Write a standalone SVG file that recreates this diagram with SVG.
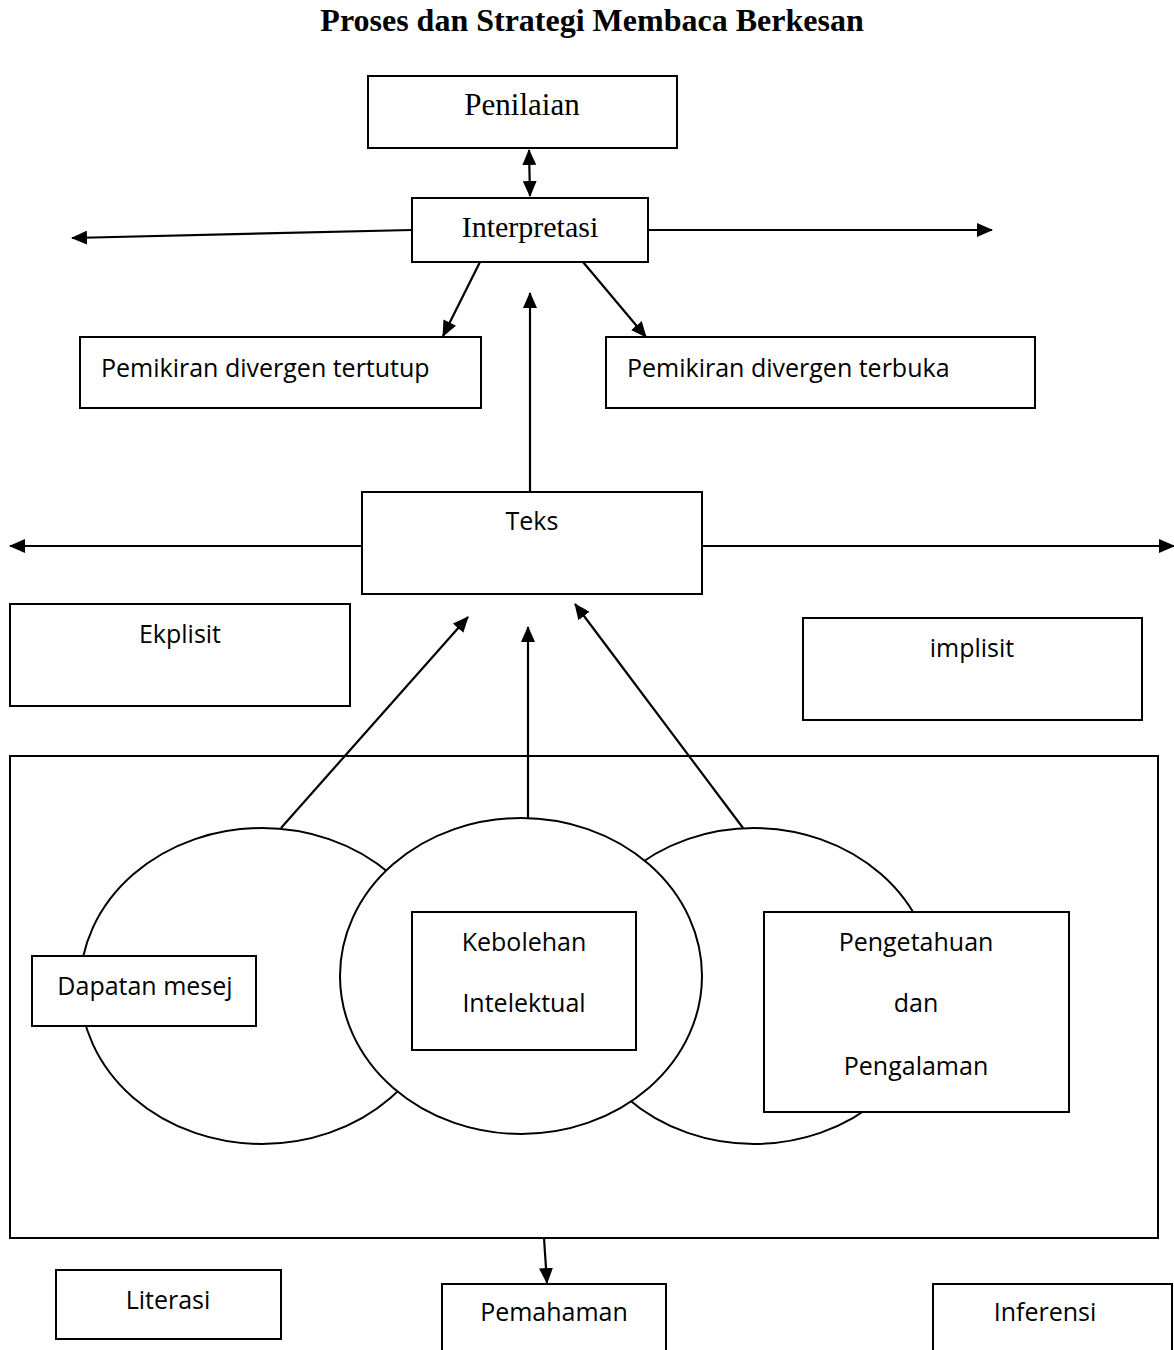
<svg xmlns="http://www.w3.org/2000/svg" width="1174" height="1350" viewBox="0 0 1174 1350">
<style>
.box{fill:#fff;stroke:#000;stroke-width:2}
.ell{fill:#fff;stroke:#000;stroke-width:2}
.con{fill:none;stroke:#000;stroke-width:2.2}
.serif{font-family:"Liberation Serif","Times New Roman",serif;fill:#000}
.sans{font-family:"Open Sans","Noto Sans",sans-serif;font-size:25px;fill:#000}
.title{font-family:"Liberation Serif","Times New Roman",serif;font-size:32px;font-weight:bold;fill:#000}
</style>
<defs>
<marker id="ah" markerUnits="userSpaceOnUse" markerWidth="16" markerHeight="14" refX="15" refY="7" orient="auto-start-reverse" viewBox="0 0 16 14">
<path d="M0,0 L16,7 L0,14 Z" fill="#000"/>
</marker>
</defs>
<rect width="1174" height="1350" fill="#fff"/>
<text class="title" x="592" y="31" text-anchor="middle">Proses dan Strategi Membaca Berkesan</text>

<g id="outer"><rect class="box" x="10" y="756" width="1148" height="482"/></g>

<g id="ellipses">
<ellipse id="ell-left" class="ell" cx="262" cy="986" rx="182" ry="158"/>
<ellipse id="ell-right" class="ell" cx="754" cy="986" rx="180" ry="158"/>
<ellipse id="ell-mid" class="ell" cx="521" cy="976" rx="181" ry="158"/>
</g>

<g id="connectors">
<line class="con" x1="529" y1="150" x2="530" y2="196" marker-start="url(#ah)" marker-end="url(#ah)"/>
<line class="con" x1="412" y1="230" x2="72" y2="238" marker-end="url(#ah)"/>
<line class="con" x1="648" y1="230" x2="992" y2="230" marker-end="url(#ah)"/>
<line class="con" x1="480" y1="262" x2="443" y2="336" marker-end="url(#ah)"/>
<line class="con" x1="583" y1="262" x2="646" y2="337" marker-end="url(#ah)"/>
<line class="con" x1="530" y1="492" x2="530" y2="293" marker-end="url(#ah)"/>
<line class="con" x1="362" y1="546" x2="10" y2="546" marker-end="url(#ah)"/>
<line class="con" x1="702" y1="546" x2="1174" y2="546" marker-end="url(#ah)"/>
<line class="con" x1="281" y1="828" x2="468" y2="617" marker-end="url(#ah)"/>
<line class="con" x1="528" y1="818" x2="528" y2="627" marker-end="url(#ah)"/>
<line class="con" x1="743" y1="828" x2="575" y2="604" marker-end="url(#ah)"/>
<line class="con" x1="544" y1="1238" x2="547" y2="1283" marker-end="url(#ah)"/>
</g>

<g id="penilaian"><rect class="box" x="368" y="76" width="309" height="72"/><text class="serif" x="522" y="115" font-size="31" text-anchor="middle">Penilaian</text></g>
<g id="interpretasi"><rect class="box" x="412" y="198" width="236" height="64"/><text class="serif" x="530" y="237" font-size="30" text-anchor="middle">Interpretasi</text></g>
<g id="tertutup"><rect class="box" x="80" y="337" width="401" height="71"/><text class="sans" x="101" y="377">Pemikiran divergen tertutup</text></g>
<g id="terbuka"><rect class="box" x="606" y="337" width="429" height="71"/><text class="sans" x="627" y="377">Pemikiran divergen terbuka</text></g>
<g id="teks"><rect class="box" x="362" y="492" width="340" height="102"/><text class="sans" x="532" y="530" text-anchor="middle">Teks</text></g>
<g id="ekplisit"><rect class="box" x="10" y="604" width="340" height="102"/><text class="sans" x="180" y="643" text-anchor="middle">Ekplisit</text></g>
<g id="implisit"><rect class="box" x="803" y="618" width="339" height="102"/><text class="sans" x="972" y="657" text-anchor="middle">implisit</text></g>
<g id="dapatan"><rect class="box" x="32" y="956" width="224" height="70"/><text class="sans" x="145" y="995" text-anchor="middle">Dapatan mesej</text></g>
<g id="kebolehan"><rect class="box" x="412" y="912" width="224" height="138"/><text class="sans" x="524" y="951" text-anchor="middle">Kebolehan</text><text class="sans" x="524" y="1012" text-anchor="middle">Intelektual</text></g>
<g id="pengetahuan"><rect class="box" x="764" y="912" width="305" height="200"/><text class="sans" x="916" y="951" text-anchor="middle">Pengetahuan</text><text class="sans" x="916" y="1012" text-anchor="middle">dan</text><text class="sans" x="916" y="1075" text-anchor="middle">Pengalaman</text></g>
<g id="literasi"><rect class="box" x="56" y="1270" width="225" height="69"/><text class="sans" x="168" y="1309" text-anchor="middle">Literasi</text></g>
<g id="pemahaman"><rect class="box" x="442" y="1284" width="224" height="80"/><text class="sans" x="554" y="1321" text-anchor="middle">Pemahaman</text></g>
<g id="inferensi"><rect class="box" x="933" y="1284" width="239" height="80"/><text class="sans" x="1045" y="1321" text-anchor="middle">Inferensi</text></g>
</svg>
